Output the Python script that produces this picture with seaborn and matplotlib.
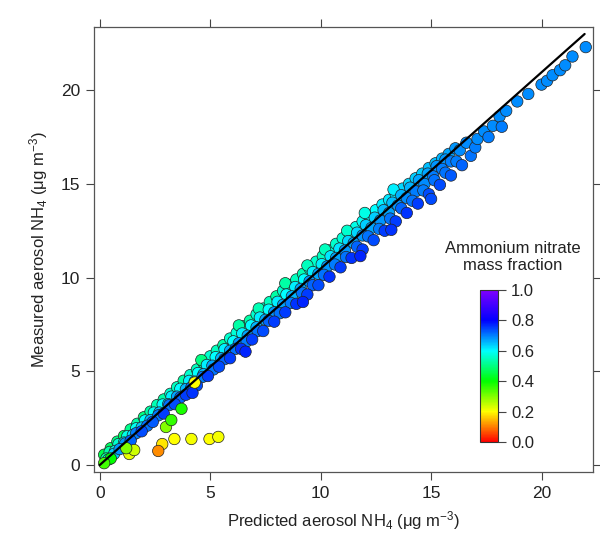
import numpy as np
import pandas as pd
import matplotlib
matplotlib.use("Agg")
import matplotlib.pyplot as plt
from matplotlib.colors import LinearSegmentedColormap, Normalize
from matplotlib.cm import ScalarMappable
import seaborn as sns

# ---------------- data ----------------
# upper (greener) edge of the band
up_x = [0.2, 0.5, 0.8, 1.1, 1.4, 1.7, 2.0, 2.3, 2.6, 2.9, 3.2, 3.5, 3.8, 4.1, 4.4, 4.7,
        5.0, 5.3, 5.6, 5.9, 6.2, 6.5, 6.8, 7.1, 7.4, 7.7, 8.0, 8.3, 8.6, 8.9, 9.2, 9.5,
        9.8, 10.1, 10.4, 10.7, 11.0, 11.3, 11.6, 11.9, 12.2, 12.5, 12.8, 13.1, 13.4,
        13.7, 14.0, 14.3, 14.6, 14.9, 15.2, 15.5, 15.8, 16.1,
        4.6, 6.3, 8.4, 10.2, 12.0, 13.3, 7.2, 9.4, 11.2]
up_y = [0.55, 0.9, 1.25, 1.55, 1.9, 2.2, 2.55, 2.85, 3.2, 3.5, 3.8, 4.15, 4.5, 4.8, 5.1, 5.45,
        5.8, 6.1, 6.4, 6.75, 7.05, 7.4, 7.7, 8.05, 8.35, 8.7, 9.0, 9.3, 9.6, 9.9, 10.2, 10.5,
        10.85, 11.15, 11.45, 11.8, 12.1, 12.4, 12.7, 13.0, 13.3, 13.6, 13.9, 14.15, 14.45,
        14.75, 15.0, 15.3, 15.55, 15.85, 16.1, 16.35, 16.6, 16.9,
        5.6, 7.45, 9.7, 11.5, 13.45, 14.7, 8.35, 10.65, 12.5]
up_f = [0.46, 0.48, 0.50, 0.48, 0.51, 0.53, 0.50, 0.53, 0.54, 0.53, 0.56, 0.55, 0.53, 0.56, 0.55, 0.54,
        0.56, 0.55, 0.53, 0.56, 0.57, 0.54, 0.53, 0.56, 0.57, 0.55, 0.53, 0.56, 0.57, 0.55, 0.54, 0.57,
        0.56, 0.55, 0.57, 0.56, 0.57, 0.58, 0.58, 0.59, 0.59, 0.60, 0.61, 0.62, 0.61, 0.63, 0.63, 0.64,
        0.64, 0.65, 0.65, 0.66, 0.67, 0.68,
        0.50, 0.53, 0.53, 0.55, 0.58, 0.61, 0.54, 0.55, 0.56]

# between upper edge and middle
mu_x = [0.45, 0.85, 1.25, 1.65, 2.05, 2.45, 2.85, 3.25, 3.65, 4.05, 4.45, 4.85, 5.25, 5.65,
        6.05, 6.45, 6.85, 7.25, 7.65, 8.05, 8.45, 8.85, 9.25, 9.65, 10.05, 10.45, 10.85,
        11.25, 11.65, 12.05, 12.45, 12.85, 13.25, 13.65, 14.05, 14.45, 14.85, 15.25, 15.65]
mu_y = [0.7, 1.12, 1.54, 1.96, 2.38, 2.8, 3.23, 3.65, 4.07, 4.49, 4.91, 5.34, 5.76, 6.18,
        6.6, 7.02, 7.45, 7.87, 8.29, 8.71, 9.1, 9.5, 9.9, 10.3, 10.72, 11.14, 11.55,
        11.95, 12.4, 12.8, 13.2, 13.6, 14.0, 14.4, 14.8, 15.2, 15.55, 15.95, 16.3]
mu_f = [0.53, 0.56, 0.58, 0.59, 0.60, 0.59, 0.60, 0.61, 0.60, 0.61, 0.60, 0.61, 0.60, 0.61,
        0.60, 0.61, 0.60, 0.61, 0.60, 0.61, 0.60, 0.61, 0.60, 0.61, 0.61, 0.62, 0.62,
        0.63, 0.63, 0.64, 0.64, 0.65, 0.65, 0.66, 0.66, 0.67, 0.67, 0.68, 0.68]

# middle of the band
mid_x = [0.3, 0.7, 1.1, 1.5, 1.9, 2.3, 2.7, 3.1, 3.5, 3.9, 4.3, 4.7, 5.1, 5.5, 5.9, 6.3, 6.7,
         7.1, 7.5, 7.9, 8.3, 8.7, 9.1, 9.5, 9.9, 10.3, 10.7, 11.1, 11.5, 11.9, 12.3, 12.7, 13.1,
         13.5, 13.9, 14.3, 14.7, 15.1, 15.5, 15.9]
mid_y = [0.35, 0.75, 1.2, 1.6, 2.0, 2.4, 2.8, 3.25, 3.65, 4.05, 4.45, 4.85, 5.3, 5.7, 6.1, 6.5, 6.9,
         7.35, 7.75, 8.15, 8.55, 9.0, 9.4, 9.8, 10.2, 10.6, 11.05, 11.45, 11.85, 12.25, 12.65, 13.05,
         13.45, 13.85, 14.25, 14.6, 15.0, 15.4, 15.8, 16.2]
mid_f = [0.52, 0.58, 0.62, 0.62, 0.64, 0.66, 0.65, 0.66, 0.67, 0.66, 0.67, 0.66, 0.67, 0.66, 0.67,
         0.68, 0.67, 0.66, 0.67, 0.68, 0.67, 0.66, 0.67, 0.68, 0.67, 0.68, 0.67, 0.68, 0.67, 0.68,
         0.67, 0.68, 0.67, 0.68, 0.69, 0.70, 0.69, 0.70, 0.70, 0.70]

# between middle and lower edge
ml_x = [0.65, 1.15, 1.65, 2.15, 2.65, 3.15, 3.65, 4.15, 4.65, 5.15, 5.65, 6.15, 6.65, 7.15,
        7.65, 8.15, 8.65, 9.15, 9.65, 10.15, 10.65, 11.15, 11.65, 12.15, 12.65, 13.15, 13.65,
        14.15, 14.65, 15.15, 15.65, 16.15]
ml_y = [0.6, 1.15, 1.7, 2.1, 2.65, 3.2, 3.6, 4.15, 4.7, 5.1, 5.65, 6.2, 6.6, 7.15,
        7.7, 8.1, 8.65, 9.2, 9.6, 10.15, 10.7, 11.1, 11.65, 12.2, 12.6, 13.15, 13.7,
        14.1, 14.65, 15.2, 15.6, 16.2]
ml_f = [0.64, 0.68, 0.70, 0.71, 0.70, 0.71, 0.72, 0.71, 0.70, 0.71, 0.72, 0.71, 0.70, 0.71,
        0.72, 0.71, 0.70, 0.71, 0.72, 0.71, 0.70, 0.71, 0.72, 0.71, 0.70, 0.71, 0.72,
        0.71, 0.70, 0.71, 0.71, 0.70]

# lower (bluer) edge of the band
low_x = [0.4, 0.9, 1.4, 1.9, 2.4, 2.9, 3.4, 3.9, 4.4, 4.9, 5.4, 5.9, 6.4, 6.9, 7.4, 7.9, 8.4,
         8.9, 9.4, 9.9, 10.4, 10.9, 11.4, 11.9, 12.4, 12.9, 13.4, 13.9, 14.4, 14.9, 15.4, 15.9, 16.4,
         6.6, 9.2, 11.8, 13.2, 4.2, 15.0]
low_y = [0.3, 0.85, 1.3, 1.8, 2.3, 2.75, 3.25, 3.75, 4.25, 4.75, 5.25, 5.7, 6.2, 6.7, 7.15, 7.65,
         8.15, 8.6, 9.1, 9.6, 10.05, 10.55, 11.05, 11.5, 12.0, 12.5, 13.0, 13.45, 13.95, 14.45, 14.95,
         15.45, 16.0,
         6.05, 8.7, 11.15, 12.55, 3.85, 14.2]
low_f = [0.60, 0.68, 0.72, 0.74, 0.73, 0.75, 0.74, 0.75, 0.74, 0.75, 0.74, 0.75, 0.76, 0.75, 0.74,
         0.75, 0.75, 0.76, 0.75, 0.74, 0.76, 0.75, 0.76, 0.75, 0.74, 0.75, 0.75, 0.76, 0.75, 0.74,
         0.74, 0.73, 0.72,
         0.77, 0.77, 0.77, 0.76, 0.76, 0.74]

# high-concentration tail
hi_x = [16.3, 16.6, 16.8, 17.0, 17.1, 17.4, 17.6, 17.8, 18.1, 18.2, 18.4, 18.9, 19.4, 20.0,
        20.25, 20.5, 20.84, 21.07, 21.4, 22.0]
hi_y = [16.8, 17.2, 16.5, 16.95, 17.4, 17.8, 17.5, 18.1, 18.6, 18.05, 18.9, 19.4, 19.8, 20.3,
        20.5, 20.8, 21.07, 21.33, 21.8, 22.3]
hi_f = [0.69, 0.69, 0.71, 0.70, 0.69, 0.69, 0.70, 0.69, 0.69, 0.70, 0.69, 0.69, 0.69, 0.69,
        0.69, 0.69, 0.69, 0.69, 0.69, 0.69]

# low-nitrate outliers
out_x = [3.38, 4.15, 4.97, 5.37, 2.83, 2.65, 1.34, 1.56, 3.0, 3.24, 3.7, 4.3, 1.2, 0.5, 0.2]
out_y = [1.39, 1.39, 1.39, 1.5, 1.12, 0.75, 0.59, 0.8, 2.03, 2.4, 3.0, 4.4, 0.9, 0.35, 0.1]
out_f = [0.20, 0.21, 0.20, 0.21, 0.18, 0.11, 0.22, 0.24, 0.30, 0.36, 0.38, 0.20, 0.30, 0.40, 0.35]

# regression line
fit_x = [0.0, 21.95]
fit_y = [0.0, 23.0]

cbar_ticks = [0.0, 0.2, 0.4, 0.6, 0.8, 1.0]
x_ticks = [0, 5, 10, 15, 20]
y_ticks = [0, 5, 10, 15, 20]

# ---------------- figure ----------------
sns.set_style("ticks")
plt.rcParams["font.family"] = ["Liberation Sans", "DejaVu Sans"]
plt.rcParams["mathtext.default"] = "regular"

cmap = LinearSegmentedColormap.from_list(
    "rainbow_igor",
    [(0.0, "#ff0000"), (0.1, "#ff8000"), (0.2, "#ffff00"), (0.4, "#00ff00"),
     (0.6, "#00ffff"), (0.8, "#0000ff"), (1.0, "#8000ff")])
norm = Normalize(0, 1)

df = pd.DataFrame({
    "x": up_x + mu_x + mid_x + ml_x + low_x + hi_x + out_x,
    "y": up_y + mu_y + mid_y + ml_y + low_y + hi_y + out_y,
    "f": up_f + mu_f + mid_f + ml_f + low_f + hi_f + out_f,
})

fig = plt.figure(figsize=(6.0, 5.45), dpi=100)
ax = fig.add_axes([0.157, 0.134, 0.831, 0.816])

sns.scatterplot(data=df, x="x", y="y", hue="f", palette=cmap, hue_norm=norm,
                s=68, edgecolor="#222222", linewidth=0.5, legend=False, ax=ax, zorder=2)
ax.plot(fit_x, fit_y, color="black", lw=1.6, zorder=3)

ax.set_xlim(-0.25, 22.32)
ax.set_ylim(-0.37, 23.36)
ax.set_xticks(x_ticks)
ax.set_yticks(y_ticks)
ax.tick_params(direction="out", length=6, width=0.8, color="#444444",
               top=True, right=True, labelsize=12.5, labelcolor="#222222", pad=4)
for sp in ax.spines.values():
    sp.set_visible(True)
    sp.set_color("#555555")
    sp.set_linewidth(0.9)
ax.set_xlabel(r"Predicted aerosol NH$_4$ ($\mu$g m$^{-3}$)", fontsize=12, color="#222222", labelpad=6)
ax.set_ylabel(r"Measured aerosol NH$_4$ ($\mu$g m$^{-3}$)", fontsize=12, color="#222222", labelpad=8)

cax = fig.add_axes([0.800, 0.189, 0.030, 0.279])
cb = fig.colorbar(ScalarMappable(norm=norm, cmap=cmap), cax=cax, ticks=cbar_ticks)
cb.ax.set_yticklabels([f"{t:.1f}" for t in cbar_ticks])
cb.ax.tick_params(direction="out", length=6, width=0.8, labelsize=12, labelcolor="#222222", color="#444444")
cb.outline.set_edgecolor("#333333")
cb.outline.set_linewidth(0.8)
fig.text(0.855, 0.50, "Ammonium nitrate\nmass fraction", ha="center", va="bottom",
         fontsize=12, color="#222222", linespacing=1.1)

fig.savefig("out.png", dpi=100)
